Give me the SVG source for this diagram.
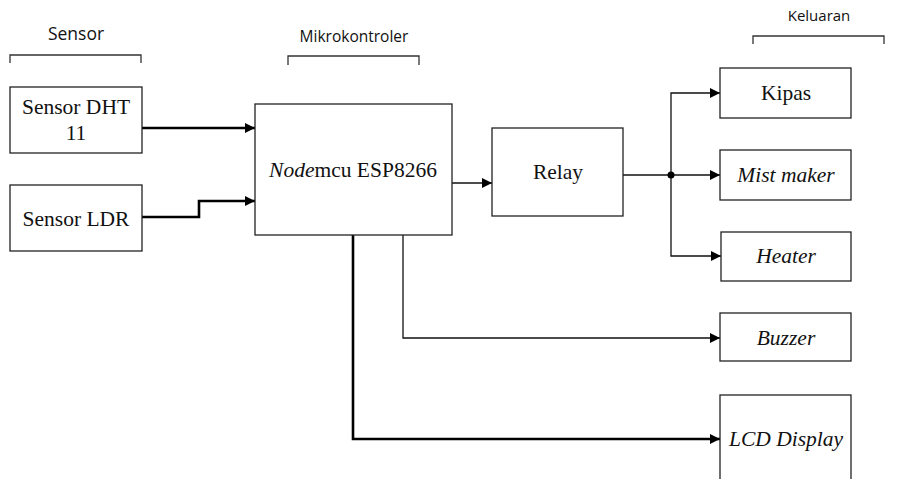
<svg xmlns="http://www.w3.org/2000/svg" width="909" height="479" viewBox="0 0 909 479">
<defs>
<marker id="ah" viewBox="0 0 10 10" refX="10" refY="5" markerWidth="14" markerHeight="10" markerUnits="userSpaceOnUse" orient="auto"><path d="M0,0 L10,5 L0,10 z" fill="#000"/></marker>
</defs>
<style>
.box{fill:#fff;stroke:#222;stroke-width:1.3}
.t{font-family:'Liberation Serif','DejaVu Serif',serif;font-size:21.5px;fill:#111;text-anchor:middle}
.i{font-style:italic}
.h{font-family:'Open Sans','Liberation Sans',sans-serif;fill:#111;text-anchor:middle}
.br{fill:none;stroke:#333;stroke-width:1.3}
.c{fill:none;stroke:#111;stroke-width:1.3}
.ck{fill:none;stroke:#000;stroke-width:2.6}
</style>
<rect width="909" height="479" fill="#fff"/>
<g id="headers">
<text class="h" x="76" y="40" font-size="17.5">Sensor</text>
<path class="br" d="M10,63 V55 H141 V63"/>
<text class="h" x="354" y="42" font-size="15.5">Mikrokontroler</text>
<path class="br" d="M288,65 V56 H419 V65"/>
<text class="h" x="819" y="21" font-size="15">Keluaran</text>
<path class="br" d="M753,44 V36 H884 V44"/>
</g>
<g id="connectors">
<path class="ck" d="M142,128 H255" marker-end="url(#ah)"/>
<path class="ck" d="M142,217 H199 V201 H255" marker-end="url(#ah)"/>
<path class="c" d="M452,183 H492" marker-end="url(#ah)"/>
<path class="c" d="M623,175 H671"/>
<path class="c" d="M671,175 H720" marker-end="url(#ah)"/>
<path class="c" d="M671,175 V93 H720" marker-end="url(#ah)"/>
<path class="c" d="M671,175 V256 H721" marker-end="url(#ah)"/>
<circle cx="671" cy="175" r="3.5" fill="#000"/>
<path class="c" d="M403,235 V338 H720" marker-end="url(#ah)"/>
<path class="ck" d="M353,235 V439 H720" marker-end="url(#ah)"/>
</g>
<g id="sensor-dht">
<rect class="box" x="10" y="87" width="132" height="66"/>
<text class="t" x="76" y="114">Sensor DHT</text>
<text class="t" x="76" y="140">11</text>
</g>
<g id="sensor-ldr">
<rect class="box" x="10" y="185" width="132" height="66"/>
<text class="t" x="76" y="226">Sensor LDR</text>
</g>
<g id="nodemcu">
<rect class="box" x="255" y="104" width="197" height="131"/>
<text class="t" x="353" y="177"><tspan class="i">Node</tspan>mcu ESP8266</text>
</g>
<g id="relay">
<rect class="box" x="492" y="128" width="131" height="88"/>
<text class="t" x="558" y="179">Relay</text>
</g>
<g id="kipas">
<rect class="box" x="720" y="68" width="131" height="50"/>
<text class="t" x="786" y="100">Kipas</text>
</g>
<g id="mist-maker">
<rect class="box" x="720" y="150" width="131" height="50"/>
<text class="t i" x="786" y="182">Mist maker</text>
</g>
<g id="heater">
<rect class="box" x="721" y="232" width="130" height="49"/>
<text class="t i" x="786" y="263">Heater</text>
</g>
<g id="buzzer">
<rect class="box" x="720" y="313" width="131" height="48"/>
<text class="t i" x="786" y="345">Buzzer</text>
</g>
<g id="lcd">
<rect class="box" x="720" y="395" width="131" height="100"/>
<text class="t i" x="786" y="446">LCD Display</text>
</g>
</svg>
